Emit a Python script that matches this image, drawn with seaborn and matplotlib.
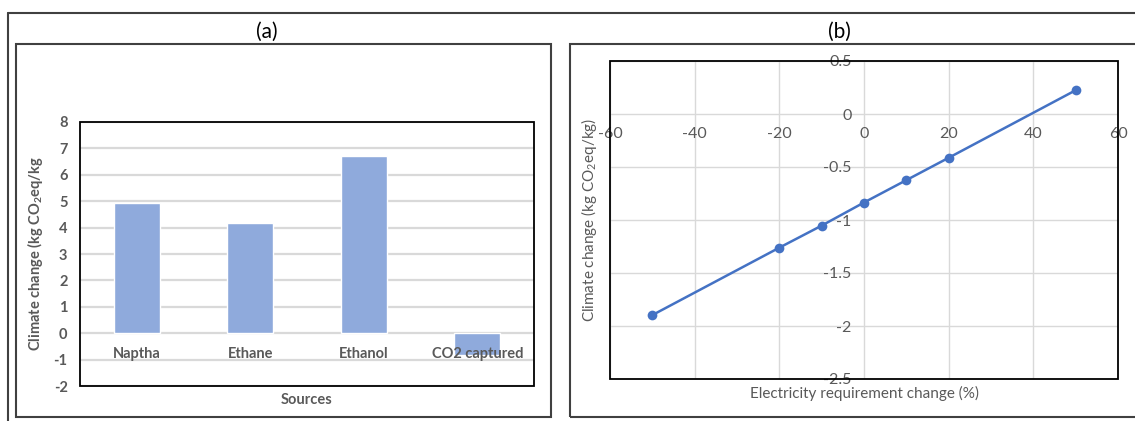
import numpy as np
import pandas as pd
import matplotlib
matplotlib.use("Agg")
import matplotlib.pyplot as plt
from matplotlib.patches import Rectangle
from matplotlib.lines import Line2D
import seaborn as sns

# data
sources = ["Naptha", "Ethane", "Ethanol", "CO2 captured"]
climate_change = [4.95, 4.17, 6.70, -0.82]

elec_change = [-50, -20, -10, 0, 10, 20, 50]
climate_b = [-1.897, -1.261, -1.053, -0.835, -0.624, -0.413, 0.224]

sns.set_theme(style="white")
plt.rcParams["font.family"] = ["Lato", "DejaVu Sans"]
plt.rcParams["axes.unicode_minus"] = False

W, H = 1135, 421
fig = plt.figure(figsize=(W / 100, H / 100), dpi=100)
gray = "#595959"


def ax_rect(x0, y0, x1, y1):
    # pixel box (top-left origin) -> figure fraction
    return [x0 / W, 1 - y1 / H, (x1 - x0) / W, (y1 - y0) / H]


# outer frames
fig.add_artist(Line2D([8 / W, 1], [1 - 13 / H] * 2, color="#404040", lw=1.5))
fig.add_artist(Line2D([8 / W] * 2, [0, 1 - 13 / H], color="#404040", lw=1.5))
fig.add_artist(Rectangle((16 / W, 1 - 417 / H), (551 - 16) / W, (417 - 44) / H,
                         transform=fig.transFigure, fill=False, ec="#404040", lw=1.5))
fig.add_artist(Rectangle((570 / W, 1 - 417 / H), (1140 - 570) / W, (417 - 44) / H,
                         transform=fig.transFigure, fill=False, ec="#404040", lw=1.5))
fig.text(267 / W, 1 - 32 / H, "(a)", ha="center", va="center", fontsize=15, color="black")
fig.text(839 / W, 1 - 32 / H, "(b)", ha="center", va="center", fontsize=15, color="black")

# (a) bar chart
ax1 = fig.add_axes(ax_rect(80, 122, 534, 386))
df_a = pd.DataFrame({"source": sources, "value": climate_change})
sns.barplot(data=df_a, x="source", y="value", order=sources, color="#8FAADC",
            width=0.405, saturation=1, ax=ax1)
ax1.set_ylim(-2, 8)
ax1.set_xlim(-0.5, 3.5)
ax1.set_yticks(range(-2, 9))
ax1.yaxis.grid(True, color="#D9D9D9", lw=1.6)
ax1.set_axisbelow(True)
ax1.xaxis.set_zorder(3)  # category labels sit on top of the bars
for s in ax1.spines.values():
    s.set_visible(False)
ax1.spines["bottom"].set_position(("data", 0))
ax1.tick_params(axis="x", length=0, pad=10, labelsize=10.5, labelcolor=gray)
ax1.tick_params(axis="y", length=0, pad=9, labelsize=10.5, labelcolor=gray)
for lab in ax1.get_xticklabels() + ax1.get_yticklabels():
    lab.set_fontweight("bold")
ax1.set_xlabel("Sources", fontsize=10.5, fontweight="bold", color=gray)
ax1.xaxis.set_label_coords(0.5, -0.025)
ax1.set_ylabel("Climate change (kg CO$_\\mathregular{2}$eq/kg", fontsize=10.5,
               fontweight="bold", color=gray)
ax1.yaxis.set_label_coords(-0.077, 0.5)
ax1.add_patch(Rectangle((0, 0), 1, 1, transform=ax1.transAxes, fill=False,
                        ec="black", lw=1.3, clip_on=False, zorder=5))

# (b) line chart
ax2 = fig.add_axes(ax_rect(610, 61, 1118, 379))
df_b = pd.DataFrame({"x": elec_change, "y": climate_b})
sns.lineplot(data=df_b, x="x", y="y", color="#4472C4", lw=1.8, marker="o",
             markersize=7, markeredgewidth=0, ax=ax2)
ax2.set_xlim(-60, 60)
ax2.set_ylim(-2.5, 0.5)
ax2.set_xticks(np.arange(-60, 61, 20))
yt = np.arange(-2.5, 0.51, 0.5)
ax2.set_yticks(yt)
ax2.set_yticklabels([f"{v:g}" for v in yt])
ax2.grid(True, color="#D9D9D9", lw=1.0)
ax2.set_axisbelow(True)
for s in ax2.spines.values():
    s.set_visible(False)
ax2.spines["bottom"].set_position(("data", 0))
ax2.spines["left"].set_position(("data", 0))
ax2.tick_params(axis="x", length=0, pad=9, labelsize=11.5, labelcolor=gray)
ax2.tick_params(axis="y", length=0, pad=9, labelsize=11.5, labelcolor=gray)
ax2.set_xlabel("Electricity requirement change (%)", fontsize=11, color=gray)
ax2.xaxis.set_label_coords(0.5, -0.022)
ax2.set_ylabel("Climate change (kg CO$_\\mathregular{2}$eq/kg)", fontsize=11, color=gray)
ax2.yaxis.set_label_coords(-0.022, 0.5)
ax2.add_patch(Rectangle((0, 0), 1, 1, transform=ax2.transAxes, fill=False,
                        ec="black", lw=1.3, clip_on=False, zorder=5))

fig.savefig("out.png", dpi=100)
